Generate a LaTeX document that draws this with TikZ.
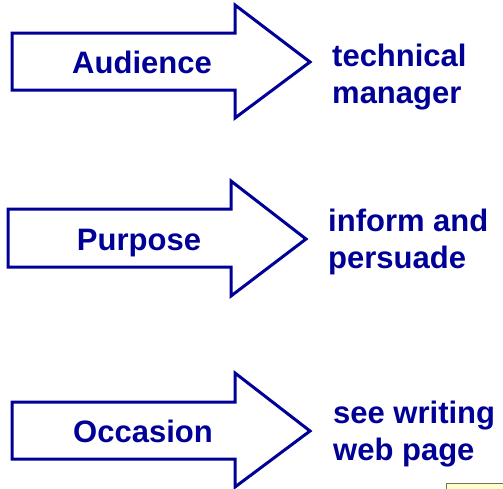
\documentclass[tikz,border=0pt]{standalone}
\usepackage{fontspec}
\setmainfont{Liberation Sans}
\definecolor{tnavy}{RGB}{0,0,150}
\definecolor{tpaper}{RGB}{255,255,204}
\usetikzlibrary{positioning}

\begin{document}
\begin{tikzpicture}[x=1pt,y=-1pt,
  bigarrow/.style={draw=tnavy,line width=3pt,line join=miter,fill=white},
  label/.style={inner sep=0pt,text=tnavy,font=\fontsize{31}{37}\selectfont\bfseries},
  note/.style={label,align=left,anchor=base west}]
  \useasboundingbox (0,0) rectangle (503,488);
  % Audience
  \draw[bigarrow] (12,33) -- (235,33) -- (235,5) -- (310,62) -- (235,118) -- (235,90) -- (12,90) -- cycle;
  \node[label,anchor=base] (audience) at (142,73) {Audience};
  \node[note] (audnote) at (332,103) {technical\\manager};
  % Purpose
  \draw[bigarrow] (8,209) -- (231,209) -- (231,181) -- (306,239) -- (231,296) -- (231,267) -- (8,267) -- cycle;
  \node[label,anchor=base] (purpose) at (139,250) {Purpose};
  \node[note] (purnote) at (328,268) {inform and\\persuade};
  % Occasion
  \draw[bigarrow] (12,402) -- (235,402) -- (235,373) -- (310,431) -- (235,487) -- (235,459) -- (12,459) -- cycle;
  \node[label,anchor=base] (occasion) at (143,442) {Occasion};
  \node[note] (occnote) at (333,460) {see writing\\web page};
  % corner of the page note
  \draw[black!60!yellow,line width=1pt,fill=tpaper] (446,483) rectangle (520,500);
\end{tikzpicture}
\end{document}
